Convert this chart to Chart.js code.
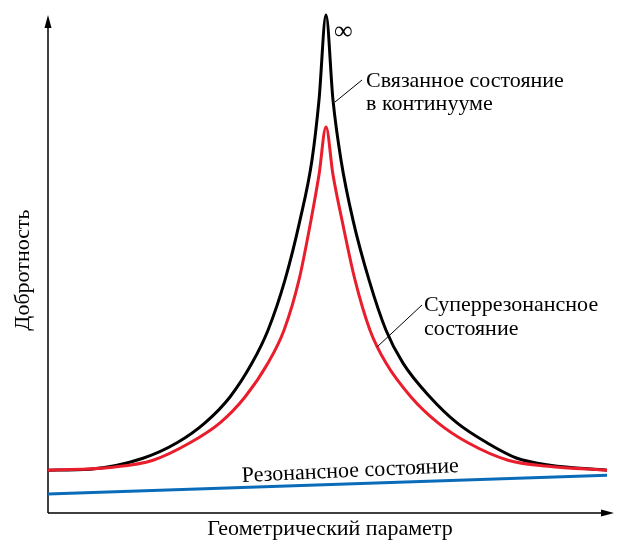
<!DOCTYPE html>
<html>
<head>
<meta charset="utf-8">
<script src="https://cdn.jsdelivr.net/npm/chart.js@4"></script>
<style>
  body { margin: 0; background: #fff; }
  canvas { display: block; }
</style>
</head>
<body>
<canvas id="myChart" width="618" height="546"></canvas>
<script>
// Geometric parameter (arbitrary units) and Q-factor (arbitrary units, 100 = infinity)
const bicX = [0, 42, 95, 129, 157, 182, 204, 220, 237, 252, 264, 271, 278, 285, 293, 305, 321, 338, 355, 382, 409, 439, 469, 502, 559];
const bicY = [8.6, 8.8, 11.0, 14.1, 18.1, 23.3, 30.1, 36.7, 46.8, 58.8, 70.9, 82.9, 100, 82.9, 70.9, 58.8, 46.8, 36.7, 30.1, 23.3, 18.1, 14.1, 11.0, 9.6, 8.6];

const superX = [0, 65, 105, 142, 172, 197, 220, 236, 251, 263, 271, 278, 285, 294, 307, 322, 338, 363, 390, 420, 460, 500, 559];
const superY = [8.6, 9.2, 10.6, 14.1, 18.1, 23.3, 30.1, 36.7, 46.8, 58.8, 67.9, 77.5, 67.9, 58.8, 46.8, 36.7, 30.1, 23.3, 18.1, 14.1, 10.6, 9.4, 8.6];

const resX = [0, 559];
const resY = [3.8, 7.6];

const toPoints = (xs, ys) => xs.map((x, i) => ({ x: x, y: ys[i] }));

const FONT = '"Liberation Serif", "DejaVu Serif", serif';

// Axes with arrows and the text labels
const decorations = {
    id: 'decorations',
    beforeDatasetsDraw(chart) {
        const c = chart.ctx;
        const a = chart.chartArea;
        c.save();
        c.strokeStyle = '#000';
        c.fillStyle = '#000';
        c.lineWidth = 1.5;
        c.beginPath();
        c.moveTo(a.left, a.bottom);
        c.lineTo(a.left, a.top + 8);
        c.moveTo(a.left, a.bottom);
        c.lineTo(a.right - 6, a.bottom);
        c.stroke();
        // y arrow
        c.beginPath();
        c.moveTo(a.left, a.top);
        c.lineTo(a.left - 3.5, a.top + 13);
        c.lineTo(a.left + 3.5, a.top + 13);
        c.closePath();
        c.fill();
        // x arrow
        c.beginPath();
        c.moveTo(a.right + 2, a.bottom);
        c.lineTo(a.right - 11, a.bottom - 3.5);
        c.lineTo(a.right - 11, a.bottom + 3.5);
        c.closePath();
        c.fill();
        c.restore();
    },
    afterDraw(chart) {
        const c = chart.ctx;
        c.save();
        c.fillStyle = '#000';
        c.strokeStyle = '#000';
        c.font = '22px ' + FONT;
        c.textBaseline = 'alphabetic';

        // x axis title
        c.textAlign = 'center';
        c.fillText('Геометрический параметр', 330, 535);

        // y axis title
        c.save();
        c.translate(29, 270);
        c.rotate(-Math.PI / 2);
        c.fillText('Добротность', 0, 0);
        c.restore();

        // infinity sign
        c.textAlign = 'left';
        c.font = '26px ' + FONT;
        c.fillText('∞', 334, 39);

        // bound state in the continuum
        c.font = '22px ' + FONT;
        c.fillText('Связанное состояние', 366, 87);
        c.fillText('в континууме', 366, 110);

        // super-resonant state
        c.fillText('Суперрезонансное', 424, 311);
        c.fillText('состояние', 424, 335);

        // leader lines
        c.lineWidth = 1;
        c.beginPath();
        c.moveTo(335, 102);
        c.lineTo(362, 80);
        c.moveTo(422, 305);
        c.lineTo(377, 347);
        c.stroke();

        // resonant state, along the blue line
        c.save();
        c.translate(242, 482);
        c.rotate(-0.046);
        c.fillText('Резонансное состояние', 0, 0);
        c.restore();

        c.restore();
    }
};

new Chart(document.getElementById('myChart'), {
    type: 'scatter',
    data: {
        datasets: [
            {
                data: toPoints(resX, resY),
                showLine: true,
                borderColor: '#0a6cb8',
                borderWidth: 3,
                pointRadius: 0,
                clip: false
            },
            {
                data: toPoints(superX, superY),
                showLine: true,
                borderColor: '#ea1d2c',
                borderWidth: 3,
                pointRadius: 0,
                cubicInterpolationMode: 'monotone',
                clip: false
            },
            {
                data: toPoints(bicX, bicY),
                showLine: true,
                borderColor: '#000000',
                borderWidth: 3,
                pointRadius: 0,
                cubicInterpolationMode: 'monotone',
                clip: false
            }
        ]
    },
    options: {
        responsive: false,
        animation: false,
        layout: { padding: { left: 48, right: 6, top: 15, bottom: 33 } },
        plugins: { legend: { display: false }, tooltip: { enabled: false } },
        scales: {
            x: { type: 'linear', min: 0, max: 564, display: false },
            y: { type: 'linear', min: 0, max: 100, display: false }
        }
    },
    plugins: [decorations]
});
</script>
</body>
</html>
